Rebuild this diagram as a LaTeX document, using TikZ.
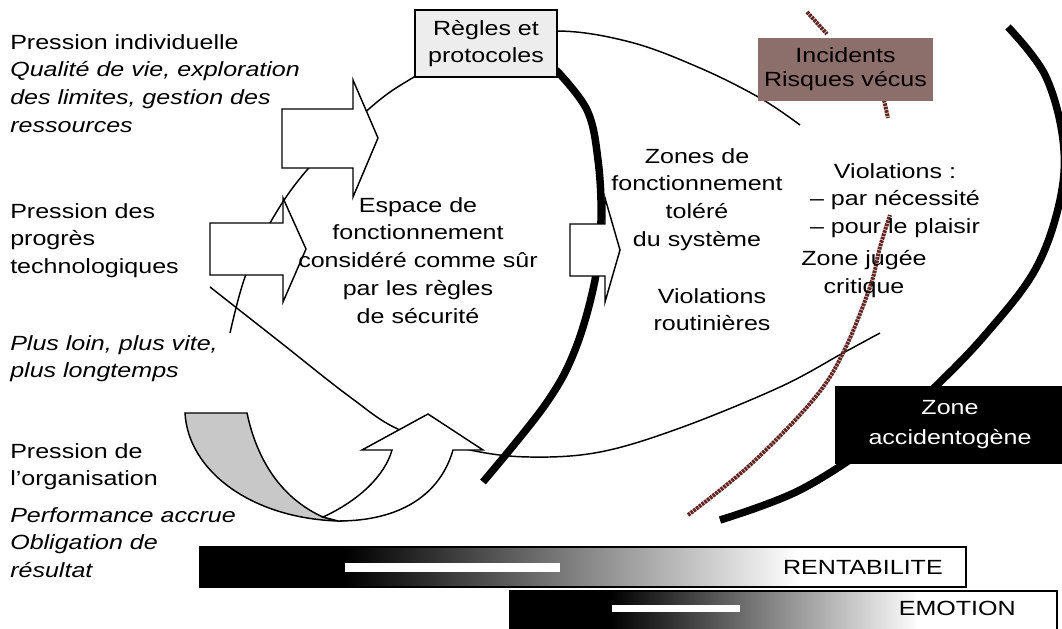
\documentclass[tikz,border=0pt]{standalone}
\usepackage{fontspec}
\setmainfont{Liberation Sans}[FakeStretch=1.22]
\definecolor{rust}{RGB}{100,40,36}
\definecolor{rustlight}{RGB}{150,90,85}
\definecolor{incid}{RGB}{140,110,106}
\definecolor{boxgray}{gray}{0.93}
\definecolor{ugray}{RGB}{200,200,200}
\begin{document}
\begin{tikzpicture}[x=0.75pt,y=-0.75pt,
  txt/.style={font=\fontsize{15.4}{20.8}\selectfont, inner sep=0pt, align=center},
  ltxt/.style={txt, align=left, anchor=north west},
  thinline/.style={line width=1.1pt},
  thickarc/.style={line width=5.6pt},
  brownline/.style={line width=3pt, rust, dash pattern=on 2pt off 0.6pt},
  blockarrow/.style={draw=black, fill=white, line width=1.1pt, line join=miter},
  labelbox/.style={draw=black, line width=1.1pt, inner sep=0pt, align=center,
    font=\fontsize{15.4}{20.8}\selectfont},
]
\useasboundingbox (0,0) rectangle (1062,628);
\begin{scope}
\clip (0,0) rectangle (1062,628);

% thin ellipse-like arcs
\draw[thinline] plot[smooth, tension=0.6] coordinates {(230,333) (245,277) (270,223) (307,170) (370,108) (414,77) (480,42) (556,31) (630,42) (700,68) (760,98) (800,125)};
\draw[thinline] plot[smooth, tension=0.6] coordinates {(210,287) (280,342) (350,397) (400,430) (470,450) (530,457) (600,452) (680,428) (780,387) (843,353) (880,333)};

% thick arcs
\draw[thickarc] plot[smooth, tension=0.6] coordinates {(556,70) (587,110) (598,160) (601,220) (595,280) (575,350) (545,405) (483,482)};
\draw[thickarc] plot[smooth, tension=0.6] coordinates {(1008,27) (1045,75) (1063,140) (1060,200) (1035,270) (985,335) (935,387) (880,438) (800,490) (720,520)};

% brown stippled curve
\draw[brownline] plot[smooth, tension=0.6] coordinates {(688,515) (750,465) (813,400) (843,353) (870,287) (880,247) (890,215)};
\draw[brownline] (884,100) -- (888,118);
\draw[brownline] (807,12) -- (827,34);

% boxes
\node[labelbox, fill=boxgray, minimum width=106.5pt, minimum height=50.25pt] (regles) at (486,43.5) {Règles et\\protocoles};
\node[labelbox, fill=incid, draw=none, minimum width=131.25pt, minimum height=47.25pt, font=\fontsize{15.4}{18}\selectfont] (incid) at (845.5,69) {Incidents\\Risques vécus};
\node[labelbox, fill=black, text=white, minimum width=172pt, minimum height=57pt, font=\fontsize{15.4}{22.5}\selectfont] (zacc) at (950,425) {Zone\\accidentogène};

% block arrows
\draw[blockarrow] (282,109) -- (353,109) -- (353,80) -- (378,138) -- (353,197) -- (353,168) -- (282,168) -- cycle;
\draw[blockarrow] (210,223) -- (283,223) -- (283,198) -- (306,249) -- (283,302) -- (283,275) -- (210,275) -- cycle;
\draw[blockarrow] (570,224) -- (605,224) -- (605,198) -- (620,250) -- (605,302) -- (605,276) -- (570,276) -- cycle;

% curved U arrow
\draw[line width=1.1pt, fill=ugray] (185,413) -- (247,413) .. controls (258,465) and (285,500) .. (323,517) -- (338,521) .. controls (250,518) and (188,470) .. (185,413) -- cycle;
\draw[blockarrow] (323,517) .. controls (360,500) and (385,475) .. (392,450) -- (362,450) -- (428,414) -- (483,450) -- (453,450) .. controls (440,495) and (400,521) .. (338,521) -- cycle;

% bars
\fill[black] (200,547) rectangle (345,587);
\shade[left color=black, middle color=rustlight, right color=white] (345,547) rectangle (800,587);
\fill[white] (345,563) rectangle (560,572);
\draw[line width=0.8pt] (200,547) rectangle (966,587);
\node[txt, anchor=base east] (rent) at (943,574) {RENTABILITE};

\fill[black] (510,591) rectangle (610,632);
\shade[left color=black, middle color=rustlight, right color=white] (610,591) rectangle (920,632);
\fill[white] (612,605) rectangle (740,612);
\draw[line width=0.8pt] (510,591) rectangle (1057,632);
\node[txt, anchor=base east] (emo) at (1016,615) {EMOTION};
\end{scope}

% texts
\node[ltxt] (pind) at (10,34) {Pression individuelle\\\textit{Qualité de vie, exploration}\\\textit{des limites, gestion des}\\\textit{ressources}};
\node[ltxt] (ptech) at (10,203) {Pression des\\progrès\\technologiques};
\node[ltxt] (plus) at (10,335) {\textit{Plus loin, plus vite,}\\\textit{plus longtemps}};
\node[ltxt] (porg) at (10,443) {Pression de\\l'organisation};
\node[ltxt] (perf) at (10,507) {\textit{Performance accrue}\\\textit{Obligation de}\\\textit{résultat}};

\node[txt, anchor=north] (espace) at (418,197) {Espace de\\fonctionnement\\considéré comme sûr\\par les règles\\de sécurité};
\node[txt, anchor=north] (zones) at (697,148) {Zones de\\fonctionnement\\toléré\\du système};
\node[txt, anchor=north] (vroutine) at (712,288) {Violations\\routinières};
\node[txt, anchor=north] (viol) at (895,163) {Violations :\\– par nécessité\\– pour le plaisir};
\node[txt, anchor=north] (crit) at (864,250) {Zone jugée\\critique};
\end{tikzpicture}
\end{document}
